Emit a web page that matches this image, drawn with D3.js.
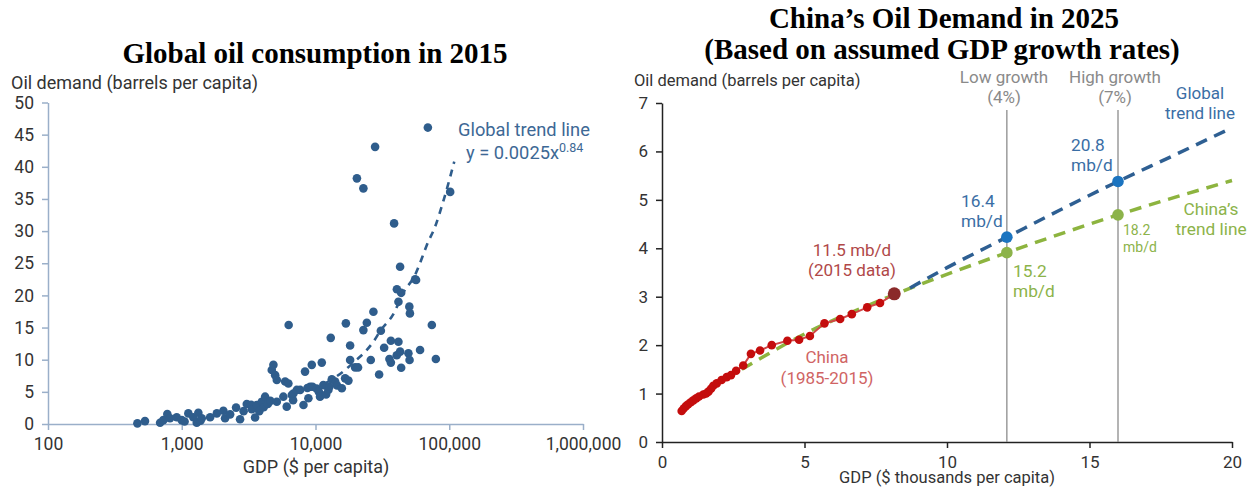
<!DOCTYPE html>
<html lang="en">
<head>
<meta charset="utf-8">
<title>Oil demand charts</title>
<script src="https://d3js.org/d3.v7.min.js"></script>
<style>
  body { margin: 0; background: #fff; }
  svg { display: block; }
  .title { font-family: "Liberation Serif", "Times New Roman", serif; font-weight: bold; font-size: 29px; fill: #000; }
  .lbl { font-family: Roboto, sans-serif; }
  .tick text { font-family: Roboto, sans-serif; }
</style>
</head>
<body>
<svg width="1255" height="489"></svg>
<script>
// ---- left chart: global scatter (GDP $ per capita, barrels per capita)
const scatterGdp = [466, 531, 689, 728, 780, 817, 917, 1000, 1050, 1120, 1220, 1295, 1331, 1380, 1411,
  1630, 1829, 2048, 2108, 2300, 2548, 2729, 2900, 3063, 3300, 3340, 3534, 3637, 3800, 3964, 4100, 4200,
  4400, 4600, 4710, 4845, 4994, 5137, 5137, 5750, 5929, 6095, 6270, 6300, 6650, 6800, 6837, 7245, 7680,
  8130, 8350, 8700, 8850, 9120, 9380, 9500, 10200, 10600, 10810, 11140, 11450, 12000, 12480, 12700,
  13000, 13240, 14020, 14500, 15730, 16650, 16870, 17620, 18150, 18150, 19780, 20400, 20800, 22800,
  22800, 24200, 25900, 27100, 27900, 29900, 30800, 32600, 35700, 36600, 36600, 38700, 40500, 40600,
  41700, 41700, 42900, 42900, 43700, 43700, 49500, 50300, 50500, 50800, 55600, 56500, 60500, 69200,
  74100, 79400, 101600];
const scatterOil = [0.1, 0.45, 0.2, 0.6, 1.55, 0.9, 1.05, 0.6, 0.4, 1.65, 1.05, 0.2, 1.75, 0.5, 0.9,
  1.05, 1.65, 2.05, 0.9, 1.5, 2.55, 0.75, 2.0, 3.1, 3.0, 2.3, 1.0, 2.95, 2.0, 3.45, 2.6, 4.25,
  3.1, 3.6, 8.4, 9.2, 7.6, 6.85, 3.45, 4.25, 6.6, 2.7, 6.3, 15.4, 4.5, 3.7, 4.75, 5.3, 5.3,
  2.95, 8.15, 5.6, 4.0, 5.8, 9.2, 5.8, 5.5, 5.0, 4.25, 9.55, 6.05, 4.6, 5.3, 5.8,
  13.4, 6.95, 6.6, 6.0, 5.55, 7.1, 15.65, 6.75, 9.95, 12.2, 8.8, 38.2, 8.8, 14.6,
  36.65, 15.75, 9.95, 17.45, 43.1, 7.7, 14.5, 11.85, 10.1, 12.95, 9.55, 31.2, 10.7, 20.95,
  12.8, 19.0, 11.25, 24.45, 8.75, 20.4, 11.0, 18.25, 9.95, 17.2, 22.5, 22.4, 11.5, 46.1,
  15.4, 10.1, 36.1];
// global trend line, read along the dashes
const globalTrendGdp = [12000, 16650, 19300, 23700, 27100, 30800, 38000, 45600, 55600, 63000, 67900, 78400, 91600, 109000];
const globalTrendOil = [6.4, 8.4, 9.6, 11.3, 12.8, 14.6, 17.0, 20.5, 23.2, 26.0, 27.8, 30.7, 35.1, 40.8];
const leftYTicks = [0, 5, 10, 15, 20, 25, 30, 35, 40, 45, 50];
const leftXTicks = [100, 1000, 10000, 100000, 1000000];

// ---- right chart: China (GDP $ thousands per capita)
const chinaGdp = [0.69, 0.76, 0.84, 0.92, 1.01, 1.10, 1.20, 1.30, 1.45, 1.55, 1.63, 1.72, 1.80, 1.92, 2.09, 2.27,
  2.42, 2.60, 2.85, 3.12, 3.44, 3.85, 4.40, 4.81, 5.19, 5.70, 6.25, 6.66, 7.20, 7.65, 8.15];
const chinaOil = [0.64, 0.69, 0.74, 0.78, 0.82, 0.86, 0.90, 0.94, 0.98, 1.00, 1.04, 1.10, 1.16, 1.21, 1.28, 1.34,
  1.38, 1.47, 1.58, 1.82, 1.89, 2.00, 2.09, 2.11, 2.19, 2.45, 2.54, 2.64, 2.78, 2.87, 3.06];
const blueTrendGdp = [8.7, 10, 12.1, 14, 16, 18, 20];
const blueTrendOil = [3.18, 3.60, 4.23, 4.80, 5.38, 5.93, 6.49];
const greenTrendGdp = [2.8, 5, 8.1, 12.1, 16, 20];
const greenTrendOil = [1.50, 2.23, 3.03, 3.91, 4.69, 5.40];
const scenarioGdp = [12.1, 16];
const scenarioBlue = [4.23, 5.38];
const scenarioGreen = [3.91, 4.69];
const rightYTicks = [0, 1, 2, 3, 4, 5, 6, 7];
const rightXTicks = [0, 5, 10, 15, 20];

const svg = d3.select("svg");

// ================= LEFT =================
const L = {x0: 48, x1: 583, y0: 424, y1: 102.5};
const lx = d3.scaleLog().domain([100, 1000000]).range([L.x0, L.x1]);
const ly = d3.scaleLinear().domain([0, 50]).range([L.y0, L.y1]);
const leftAxisColor = "#9aafc9";
const dotBlue = "#2f5d8c";

const lyAxis = svg.append("g").attr("transform", `translate(${L.x0},0)`)
  .call(d3.axisLeft(ly).tickValues(leftYTicks).tickSize(6).tickSizeOuter(0).tickPadding(8));
const lxAxis = svg.append("g").attr("transform", `translate(0,${L.y0})`)
  .call(d3.axisBottom(lx).tickValues(leftXTicks).tickSize(6).tickSizeOuter(0).tickPadding(8)
    .tickFormat(d3.format(",")));
[lyAxis, lxAxis].forEach(a => {
  a.selectAll("path, line").attr("stroke", leftAxisColor).attr("stroke-width", 1.5);
  a.selectAll("text").attr("fill", "#333").style("font-size", "17.5px");
});

svg.append("g").selectAll("circle")
  .data(scatterGdp.map((g, i) => [g, scatterOil[i]]))
  .join("circle")
  .attr("cx", d => lx(d[0])).attr("cy", d => ly(d[1])).attr("r", 4.3)
  .attr("fill", dotBlue);

svg.append("path")
  .datum(globalTrendGdp.map((g, i) => [g, globalTrendOil[i]]))
  .attr("d", d3.line().x(d => lx(d[0])).y(d => ly(d[1])).curve(d3.curveMonotoneX))
  .attr("fill", "none").attr("stroke", dotBlue).attr("stroke-width", 2.6)
  .attr("stroke-dasharray", "7,6");

svg.append("text").attr("class", "title").attr("x", 315).attr("y", 63).attr("text-anchor", "middle")
  .text("Global oil consumption in 2015");
svg.append("text").attr("class", "lbl").attr("x", 11).attr("y", 89).attr("fill", "#333")
  .style("font-size", "18px").text("Oil demand (barrels per capita)");
svg.append("text").attr("class", "lbl").attr("x", 316).attr("y", 473).attr("text-anchor", "middle")
  .attr("fill", "#333").style("font-size", "18px").text("GDP ($ per capita)");
svg.append("text").attr("class", "lbl").attr("x", 458).attr("y", 136).attr("fill", "#3d6895")
  .style("font-size", "18.3px").text("Global trend line");
const eq = svg.append("text").attr("class", "lbl").attr("x", 466).attr("y", 159).attr("fill", "#3d6895")
  .style("font-size", "18.3px");
eq.append("tspan").text("y = 0.0025x");
eq.append("tspan").attr("dy", -7).style("font-size", "12.5px").text("0.84");

// ================= RIGHT =================
const R = {x0: 662, x1: 1232, y0: 442, y1: 103};
const rx = d3.scaleLinear().domain([0, 20]).range([R.x0, R.x1]);
const ry = d3.scaleLinear().domain([0, 7]).range([R.y0, R.y1]);
const blue = "#2e5f92", blueDot = "#1b74c0", green = "#8db43f", red = "#c40d0d";

const ryAxis = svg.append("g").attr("transform", `translate(${R.x0},0)`)
  .call(d3.axisLeft(ry).tickValues(rightYTicks).tickSize(6).tickSizeOuter(0).tickPadding(8).tickFormat(d3.format("d")));
const rxAxis = svg.append("g").attr("transform", `translate(0,${R.y0})`)
  .call(d3.axisBottom(rx).tickValues(rightXTicks).tickSize(6).tickSizeOuter(0).tickPadding(8).tickFormat(d3.format("d")));
[ryAxis, rxAxis].forEach(a => {
  a.selectAll("path, line").attr("stroke", "#222").attr("stroke-width", 1.5);
  a.selectAll("text").attr("fill", "#333").style("font-size", "17px");
});

// scenario verticals
svg.append("g").selectAll("line").data(scenarioGdp).join("line")
  .attr("x1", d => rx(d)).attr("x2", d => rx(d)).attr("y1", 110).attr("y2", R.y0)
  .attr("stroke", "#8c8c8c").attr("stroke-width", 1.3);

const rline = d3.line().x(d => rx(d[0])).y(d => ry(d[1])).curve(d3.curveMonotoneX);
svg.append("path").datum(greenTrendGdp.map((g, i) => [g, greenTrendOil[i]]))
  .attr("d", rline).attr("fill", "none").attr("stroke", green).attr("stroke-width", 3.5)
  .attr("stroke-dasharray", "12,8");
svg.append("path").datum(blueTrendGdp.map((g, i) => [g, blueTrendOil[i]]))
  .attr("d", rline).attr("fill", "none").attr("stroke", blue).attr("stroke-width", 3.5)
  .attr("stroke-dasharray", "12,8");

// China history
const china = chinaGdp.map((g, i) => [g, chinaOil[i]]);
svg.append("path").datum(china)
  .attr("d", d3.line().x(d => rx(d[0])).y(d => ry(d[1])))
  .attr("fill", "none").attr("stroke", "#d24545").attr("stroke-width", 2);
svg.append("g").selectAll("circle").data(china.slice(0, -1)).join("circle")
  .attr("cx", d => rx(d[0])).attr("cy", d => ry(d[1])).attr("r", 4.3).attr("fill", red);
svg.append("circle").datum(china[china.length - 1])
  .attr("cx", d => rx(d[0])).attr("cy", d => ry(d[1])).attr("r", 6.5).attr("fill", "#8b2a2a");

// scenario dots
svg.append("g").selectAll("circle").data(scenarioGdp).join("circle")
  .attr("cx", d => rx(d)).attr("cy", (d, i) => ry(scenarioGreen[i])).attr("r", 5.8).attr("fill", "#8cb34a");
svg.append("g").selectAll("circle").data(scenarioGdp).join("circle")
  .attr("cx", d => rx(d)).attr("cy", (d, i) => ry(scenarioBlue[i])).attr("r", 5.8).attr("fill", blueDot);

// titles and labels
svg.append("text").attr("class", "title").attr("x", 944).attr("y", 28).attr("text-anchor", "middle")
  .text("China’s Oil Demand in 2025");
svg.append("text").attr("class", "title").attr("x", 942).attr("y", 59).attr("text-anchor", "middle")
  .text("(Based on assumed GDP growth rates)");
svg.append("text").attr("class", "lbl").attr("x", 634).attr("y", 86).attr("fill", "#333")
  .style("font-size", "16.5px").text("Oil demand (barrels per capita)");
svg.append("text").attr("class", "lbl").attr("x", 947).attr("y", 483).attr("text-anchor", "middle")
  .attr("fill", "#333").style("font-size", "16.5px").text("GDP ($ thousands per capita)");

function block(x, y, lines, color, size, anchor, gap) {
  const t = svg.append("text").attr("class", "lbl").attr("x", x).attr("y", y)
    .attr("fill", color).attr("text-anchor", anchor).style("font-size", size + "px");
  lines.forEach((s, i) => t.append("tspan").attr("x", x).attr("dy", i ? gap : 0).text(s));
}
block(1004, 83, ["Low growth", "(4%)"], "#8a8a8a", 17, "middle", 20);
block(1115, 83, ["High growth", "(7%)"], "#8a8a8a", 17, "middle", 20);
block(1200, 99, ["Global", "trend line"], "#3a6ea5", 17, "middle", 20);
block(1071, 151, ["20.8", "mb/d"], "#3a6ea5", 17.3, "start", 20);
block(961, 207, ["16.4", "mb/d"], "#3a6ea5", 17.3, "start", 20);
block(1013, 277, ["15.2", "mb/d"], "#8cb34a", 17.3, "start", 20);
block(1123, 235, ["18.2", "mb/d"], "#8cb34a", 14, "start", 17);
block(1211, 215, ["China’s", "trend line"], "#8cb34a", 17.3, "middle", 20);
block(852, 256, ["11.5 mb/d", "(2015 data)"], "#b04848", 17, "middle", 20);
block(827, 363, ["China", "(1985-2015)"], "#d06464", 17, "middle", 21);
</script>
</body>
</html>
